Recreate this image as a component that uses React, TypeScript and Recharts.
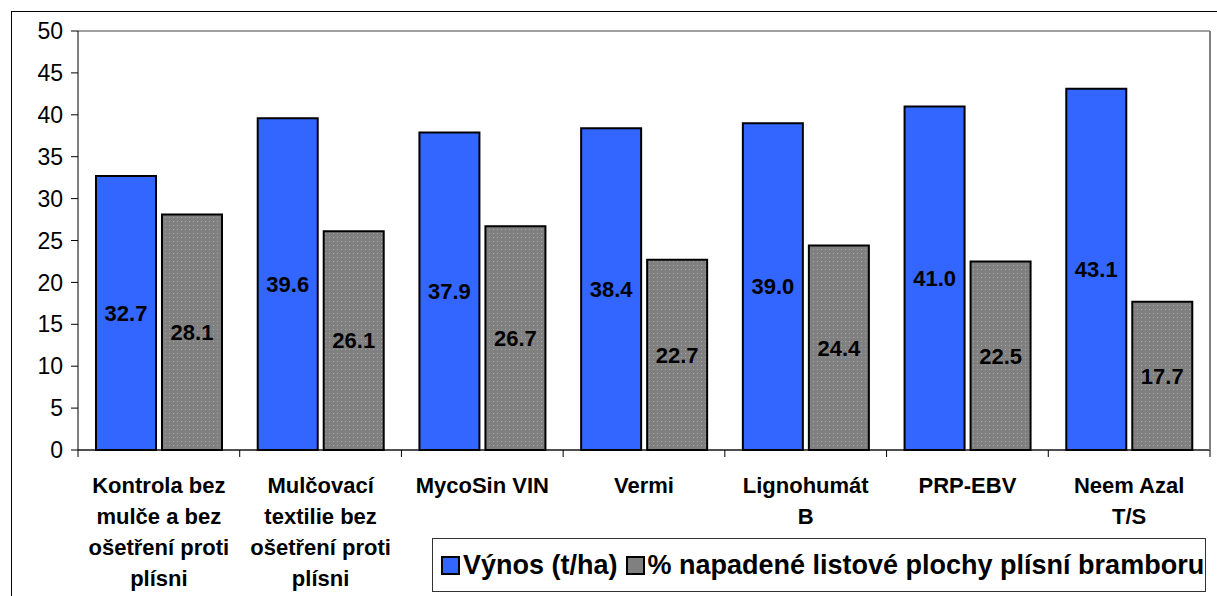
import { BarChart, Bar, XAxis, YAxis, CartesianGrid, LabelList, Legend } from 'recharts';

const categories = [
  'Kontrola bez\nmulče a bez\nošetření proti\nplísni',
  'Mulčovací\ntextilie bez\nošetření proti\nplísni',
  'MycoSin VIN',
  'Vermi',
  'Lignohumát\nB',
  'PRP-EBV',
  'Neem Azal\nT/S',
];
const vynos = [32.7, 39.6, 37.9, 38.4, 39.0, 41.0, 43.1];
const napadeni = [28.1, 26.1, 26.7, 22.7, 24.4, 22.5, 17.7];
const yTicks = [0, 5, 10, 15, 20, 25, 30, 35, 40, 45, 50];

const data = categories.map((name, i) => ({ name, vynos: vynos[i], napadeni: napadeni[i] }));

const W = 1217;
const H = 596;
const LEFT = 78;
const RIGHT = 7;
const band = (W - LEFT - RIGHT) / categories.length;
const font = 'Arial, "Liberation Sans", sans-serif';

const CategoryTick = (props: any) => {
  const { x, y, payload } = props;
  const lines = String(payload.value).split('\n');
  return (
    <g>
      <line x1={x + band / 2} x2={x + band / 2} y1={y - 8} y2={y - 1} stroke="#000" />
      {payload.index === 0 && <line x1={x - band / 2} x2={x - band / 2} y1={y - 8} y2={y - 1} stroke="#000" />}
      <text x={x} y={y + 35} textAnchor="middle" fontFamily={font} fontWeight="bold" fontSize={22} fill="#000">
        {lines.map((l, i) => (
          <tspan key={i} x={x} dy={i === 0 ? 0 : 31}>{l}</tspan>
        ))}
      </text>
    </g>
  );
};

const LegendBox = () => (
  <div
    style={{
      border: '1px solid #333',
      width: 774,
      height: 54,
      boxSizing: 'border-box',
      display: 'flex',
      alignItems: 'center',
      paddingLeft: 8,
      fontFamily: font,
      fontWeight: 'bold',
      fontSize: 27,
      background: '#fff',
      whiteSpace: 'nowrap',
    }}
  >
    <span style={{ display: 'inline-block', width: 15, height: 15, background: '#3366FF', border: '2px solid #000', marginRight: 3 }} />
    <span style={{ marginRight: 8 }}>Výnos (t/ha)</span>
    <span style={{ display: 'inline-block', width: 15, height: 15, background: '#808080', border: '2px solid #000', marginRight: 3 }} />
    <span>% napadené listové plochy plísní bramboru</span>
  </div>
);

const labelStyle = { fontFamily: font, fontWeight: 'bold', fontSize: 22, fill: '#000' };

export default function App() {
  return (
    <div style={{ position: 'absolute', left: 0, top: 0, width: W, height: H, background: '#fff', overflow: 'hidden' }}>
      <div style={{ position: 'absolute', left: 11, top: 11, width: W, height: H, border: '1px solid #000' }} />
      <BarChart
        width={W}
        height={H}
        data={data}
        margin={{ top: 31, right: 0, left: 0, bottom: 0 }}
        barGap={6}
        barCategoryGap={17}
      >
        <defs>
          <pattern id="dots" width="4" height="4" patternUnits="userSpaceOnUse">
            <rect width="4" height="4" fill="#808080" />
            <rect x="1" y="1" width="1" height="1" fill="#a8a8a8" />
          </pattern>
        </defs>
        <CartesianGrid vertical={false} stroke="#808080" strokeWidth={1.5} />
        <XAxis
          dataKey="name"
          interval={0}
          height={146}
          axisLine={{ stroke: '#000' }}
          tickLine={false}
          tick={<CategoryTick />}
        />
        <YAxis
          yAxisId="left"
          width={LEFT}
          domain={[0, 50]}
          ticks={yTicks}
          interval={0}
          axisLine={{ stroke: '#000' }}
          tickLine={{ stroke: '#000' }}
          tickSize={7}
          tickMargin={8}
          tick={{ fontFamily: font, fontSize: 23, fill: '#000' }}
        />
        <YAxis
          yAxisId="right"
          orientation="right"
          width={RIGHT}
          domain={[0, 50]}
          ticks={yTicks}
          axisLine={{ stroke: '#808080', strokeWidth: 2 }}
          tickLine={false}
          tick={false}
        />
        <Legend
          verticalAlign="middle"
          layout="horizontal"
          content={<LegendBox />}
          wrapperStyle={{ left: 432, top: 538, width: 774, height: 54 }}
        />
        <Bar yAxisId="left" dataKey="vynos" name="Výnos (t/ha)" fill="#3366FF" stroke="#000" strokeWidth={2} barSize={60} isAnimationActive={false}>
          <LabelList dataKey="vynos" position="center" formatter={(v: any) => Number(v).toFixed(1)} style={labelStyle} />
        </Bar>
        <Bar yAxisId="left" dataKey="napadeni" name="% napadené listové plochy plísní bramboru" fill="url(#dots)" stroke="#000" strokeWidth={2} barSize={60} isAnimationActive={false}>
          <LabelList dataKey="napadeni" position="center" formatter={(v: any) => Number(v).toFixed(1)} style={labelStyle} />
        </Bar>
      </BarChart>
    </div>
  );
}
